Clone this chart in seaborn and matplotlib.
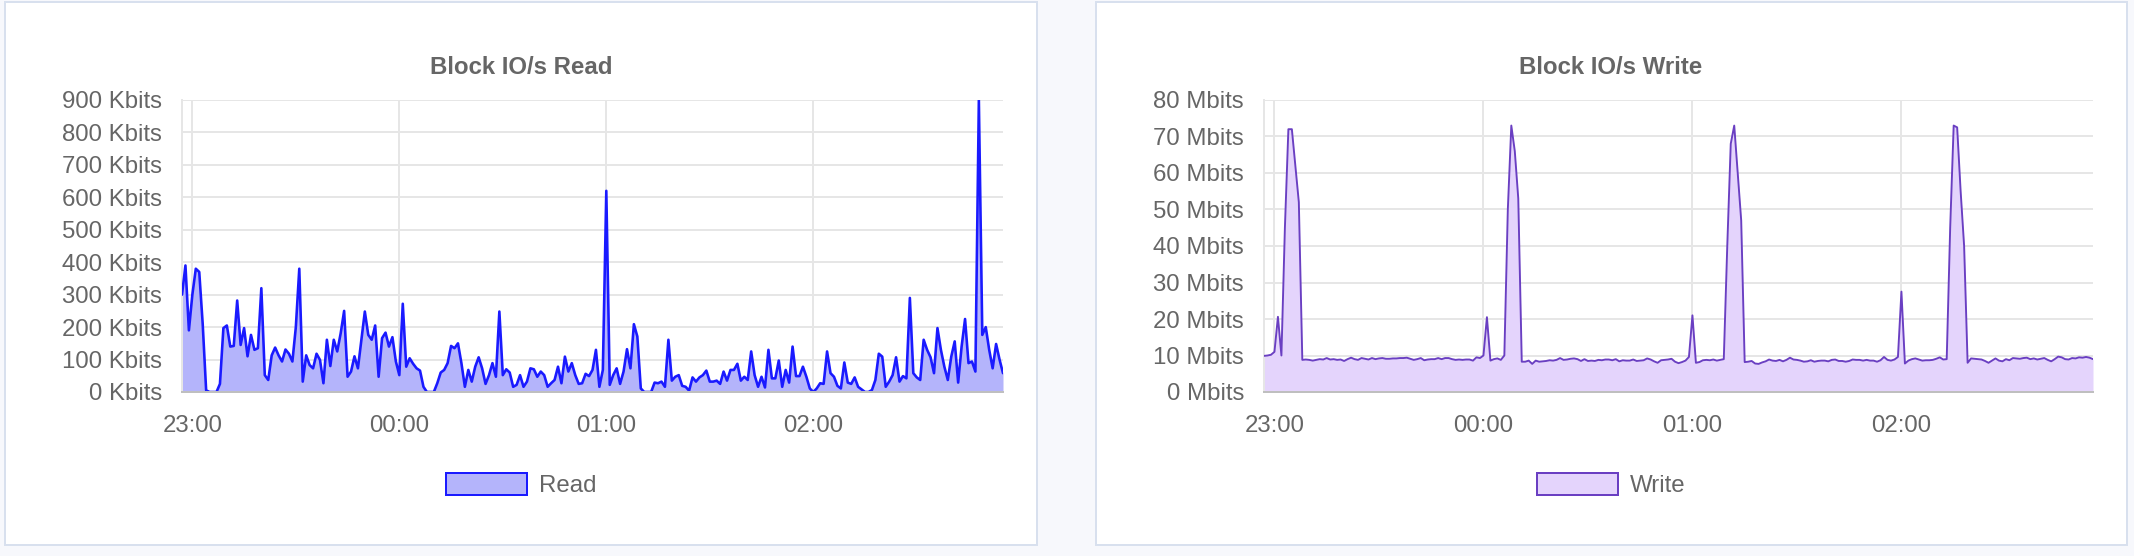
import numpy as np
import pandas as pd
import matplotlib
matplotlib.use("Agg")
import matplotlib.pyplot as plt
import matplotlib.dates as mdates
import seaborn as sns
from matplotlib.patches import Rectangle, Patch
from matplotlib.ticker import FuncFormatter

# ---------------- data ----------------
start_time = "2024-01-01 22:57"
n_points = 239

read_kbits = [
    300, 390, 190, 300, 380, 370, 210, 5, 0, 0,
    0, 25, 197, 205, 140, 142, 282, 145, 197, 110,
    176, 130, 135, 320, 52, 37, 113, 137, 113, 94,
    131, 118, 94, 200, 380, 32, 113, 83, 73, 118,
    99, 27, 161, 80, 161, 125, 181, 250, 47, 63,
    110, 73, 161, 248, 176, 161, 205, 47, 166, 183,
    140, 169, 94, 52, 272,
    78, 104, 87, 73, 66, 16, 0, 0, 0, 27,
    60, 68, 89, 142, 135, 150, 89, 16, 68, 32,
    78, 107, 73, 25, 52, 89, 47, 248, 52, 70,
    60, 16, 22, 52, 16, 32, 73, 70, 47, 63,
    52, 16, 27, 37, 78, 27, 109, 63, 89, 52,
    25, 27, 56, 49, 68, 130, 16, 68,
    620,
    22, 52, 73, 25, 63, 132, 73, 209, 171, 11,
    0, 0, 0, 29, 27, 32, 16, 161, 35, 47,
    52, 19, 16, 4, 45, 32, 45, 52, 66, 32,
    32, 35, 25, 63, 35, 68, 68, 87, 35, 47,
    37, 125, 52, 16, 47, 14, 130, 42, 42, 97,
    16, 68, 29, 140, 49, 49, 78, 47, 11, 0,
    11,
    27, 25, 125, 58, 47, 19, 11, 91, 29, 25,
    45, 16, 8, 0, 0, 6, 37, 118, 109, 16,
    32, 52, 107, 32, 49, 42, 290, 58, 45, 37,
    161, 130, 107, 58, 197, 130, 78, 37, 109, 156,
    29, 140, 225, 89, 94, 63, 900, 176, 200, 130,
    73, 148, 100, 58,
]

write_mbits = [
    9.9, 10.0, 10.2, 11.0, 20.6, 10.0, 45, 72, 72, 62, 52, 8.8,
    8.9, 8.8, 8.6, 8.8, 9.0, 8.9, 9.3, 8.9, 9.0, 8.8,
    8.9, 8.5, 9.0, 9.4, 9.0, 8.8, 9.3, 9.1, 8.9, 9.3,
    9.0, 9.2, 9.3, 9.1, 9.1, 9.2, 9.2, 9.3, 9.3, 9.4,
    9.1, 8.8, 9.0, 9.3, 8.7, 8.9, 9.0, 9.0, 9.3, 9.0,
    9.3, 9.3, 9.0, 8.8, 8.9, 8.8, 8.9, 8.9, 8.6, 9.5, 9.3,
    10.0, 20.5, 8.6, 9.0, 9.2, 8.8, 10.0, 50, 73, 66, 53, 8.3,
    8.3, 8.6, 7.7, 8.6, 8.3, 8.4, 8.5, 8.7, 8.6, 8.8,
    9.3, 8.8, 8.9, 9.1, 9.2, 9.0, 8.5, 9.0, 8.5, 8.6,
    8.5, 8.8, 8.7, 8.9, 8.9, 8.7, 9.0, 8.4, 8.7, 8.6,
    8.6, 8.9, 8.5, 8.6, 8.7, 9.2, 8.9, 8.4, 8.0, 8.7,
    8.8, 8.9, 9.1, 8.3, 7.9, 8.2, 8.6, 9.6,
    21.0, 8.0, 8.2, 8.7, 8.8, 8.7, 8.9, 8.6, 8.8, 9.0, 40, 68, 73, 60, 47, 8.2,
    8.3, 8.5, 7.8, 7.7, 8.1, 8.4, 8.9, 8.6, 8.5, 8.8,
    8.4, 8.8, 9.4, 8.9, 8.8, 8.6, 8.3, 8.4, 8.7, 8.3,
    8.5, 8.6, 8.6, 8.4, 8.8, 8.9, 8.5, 8.5, 8.3, 8.5,
    8.9, 8.8, 8.8, 8.6, 8.8, 8.6, 8.6, 8.3, 8.7, 9.6,
    8.8, 8.6, 8.9, 9.6,
    27.5, 7.8, 8.6, 9.0, 9.2, 8.9, 8.6, 8.7, 8.7, 8.8,
    9.1, 9.5, 8.9, 9.0, 45, 73, 72.5, 55, 40, 8.0,
    9.2, 9.1, 9.0, 8.9, 8.5, 8.0, 8.6, 9.2, 8.6, 8.4,
    9.0, 8.7, 9.3, 9.2, 9.1, 9.3, 9.4, 9.0, 9.2, 8.9,
    9.1, 9.3, 8.8, 8.4, 9.0, 9.7, 9.5, 9.0, 8.9, 9.3,
    9.2, 9.5, 9.4, 9.6, 9.4, 9.0,
]

read_ticks = list(range(0, 901, 100))
write_ticks = list(range(0, 81, 10))
titles = ["Block IO/s Read", "Block IO/s Write"]
labels = ["Read", "Write"]

times = pd.date_range(start_time, periods=n_points, freq="min")
df = pd.DataFrame({"time": times, "read": read_kbits, "write": write_mbits})

# ---------------- style ----------------
sns.set_theme(style="white")
plt.rcParams["font.family"] = ["Liberation Sans", "DejaVu Sans"]

W, H = 2134, 556
DPI = 100


def pt(v):
    return v * 72.0 / DPI


TEXT = "#666666"
GRID = "#e6e6e6"
ZERO = "#bfbfbf"

fig = plt.figure(figsize=(W / DPI, H / DPI), dpi=DPI, facecolor="#f7f8fc")

panels = [(5, 1037), (1096, 2127)]
for x0, x1 in panels:
    fig.patches.append(Rectangle((x0 / W, 1 - 545 / H), (x1 - x0) / W, (545 - 2) / H,
                                 transform=fig.transFigure, facecolor="white",
                                 edgecolor="#d8e0ee", lw=pt(2), zorder=-5))

specs = [
    dict(col="read", ticks=read_ticks, unit="Kbits", ymax=900, line="#1a1aff", fill="#b4b4fb",
         lw=2.6, rect=(182, 100, 1003, 392), center=521, title=titles[0], label=labels[0]),
    dict(col="write", ticks=write_ticks, unit="Mbits", ymax=80, line="#6a3fc2", fill="#e4d4fc",
         lw=1.9, rect=(1264, 100, 2093, 392), center=1611, title=titles[1], label=labels[1]),
]

for s in specs:
    l, t, r, b = s["rect"]
    ax = fig.add_axes([l / W, 1 - b / H, (r - l) / W, (b - t) / H])
    ax.set_facecolor("none")
    ax.patch.set_visible(False)
    ax.fill_between(df["time"], df[s["col"]], 0, color=s["fill"], lw=0, zorder=1)
    sns.lineplot(data=df, x="time", y=s["col"], ax=ax, color=s["line"], lw=pt(s["lw"]),
                 legend=False, zorder=3)
    ax.set_xlim(times[0], times[-1])
    ax.set_ylim(0, s["ymax"])
    ax.set_yticks(s["ticks"])
    unit = s["unit"]
    ax.yaxis.set_major_formatter(FuncFormatter(lambda v, p, u=unit: f"{int(round(v))} {u}"))
    ax.xaxis.set_major_locator(mdates.HourLocator())
    ax.xaxis.set_major_formatter(mdates.DateFormatter("%H:%M"))
    ax.set_xlabel("")
    ax.set_ylabel("")
    ax.grid(True, color=GRID, lw=pt(2))
    ax.set_axisbelow(True)
    for sp in ["top", "right"]:
        ax.spines[sp].set_visible(False)
    ax.spines["left"].set_color(GRID)
    ax.spines["left"].set_linewidth(pt(2))
    ax.spines["bottom"].set_color(ZERO)
    ax.spines["bottom"].set_linewidth(pt(2))
    ax.spines["bottom"].set_zorder(4)
    ax.tick_params(axis="both", length=pt(19), width=pt(2), color=GRID,
                   labelsize=pt(24), labelcolor=TEXT)
    ax.tick_params(axis="y", pad=pt(1))
    ax.tick_params(axis="x", pad=pt(4))

    fig.text(s["center"] / W, 1 - 74.5 / H, s["title"], ha="center", va="baseline",
             fontsize=pt(24), fontweight="bold", color=TEXT)

    handle = Patch(facecolor=s["fill"], edgecolor=s["line"], lw=pt(2))
    fig.legend(handles=[handle], labels=[s["label"]], loc="center",
               bbox_to_anchor=(s["center"] / W, 1 - 485 / H), bbox_transform=fig.transFigure,
               frameon=False, fontsize=pt(24), labelcolor=TEXT, handlelength=3.375,
               handleheight=1.0, handletextpad=0.5, borderpad=0, borderaxespad=0)

fig.savefig("out.png", dpi=DPI, facecolor=fig.get_facecolor())
